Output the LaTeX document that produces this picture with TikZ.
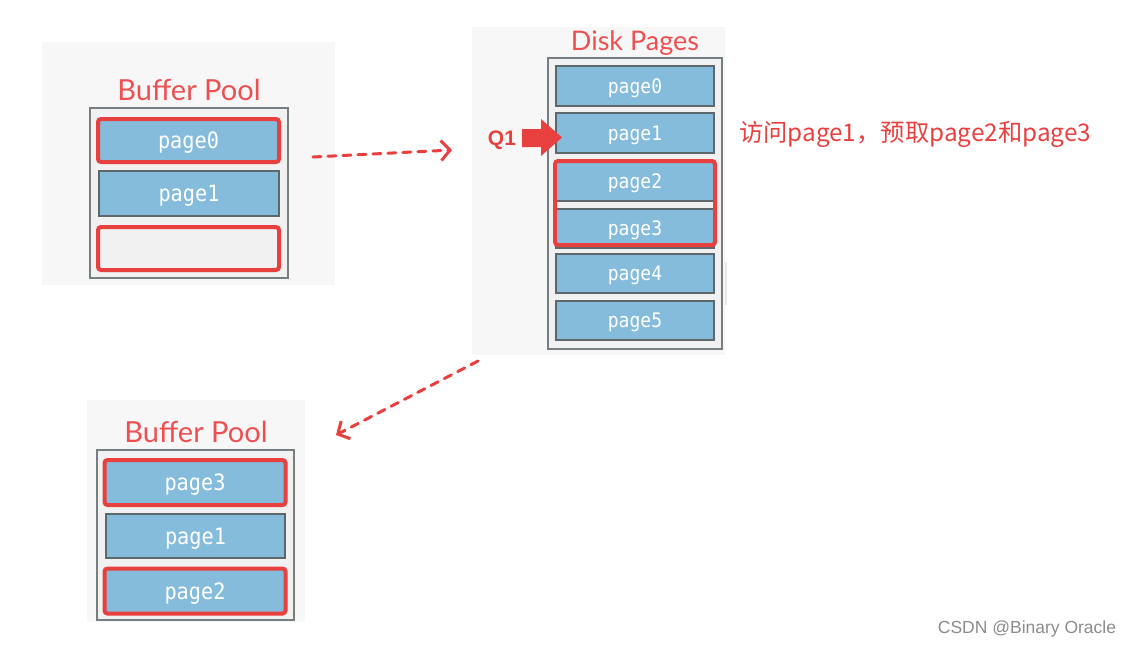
\documentclass[tikz,border=0pt]{standalone}
\usepackage{fontspec}
\setmainfont{Lato}
\newfontfamily\cjkfont{Noto Sans CJK SC}
\newfontfamily\monofont[FakeStretch=0.9]{DejaVu Sans Mono}
\newfontfamily\wmfont{Liberation Sans}
\usetikzlibrary{arrows.meta}
\definecolor{pgred}{HTML}{E8403F}
\definecolor{ttlred}{HTML}{EE5052}
\definecolor{pgblue}{HTML}{85BCDB}
\definecolor{pggray}{HTML}{5E676B}
\definecolor{panelbg}{HTML}{F7F7F7}
\definecolor{boxbg}{HTML}{F1F1F1}
\tikzset{
  panel/.style={fill=panelbg, draw=none, inner sep=0pt},
  outerbox/.style={fill=boxbg, draw=pggray!85, line width=2pt, inner sep=0pt},
  pagebox/.style={fill=pgblue, draw=pggray, line width=2pt, inner sep=0pt, text depth=-4pt,
    text=white, font=\monofont\fontsize{20}{20}\selectfont},
  bigpage/.style={pagebox, font=\monofont\fontsize{22.5}{23}\selectfont},
  redsel/.style={draw=pgred, line width=4pt, rounded corners=3pt},
  title/.style={text=ttlred, font=\fontsize{29}{30}\selectfont, inner sep=0pt},
  flow/.style={draw=pgred, line width=3pt, dash pattern=on 8pt off 7pt, line cap=round,
    -{Straight Barb[length=9pt,width=20pt,line width=3pt]}},
}
\begin{document}
\begin{tikzpicture}[x=1pt,y=-1pt]
\useasboundingbox (0,0) rectangle (1133,649);
% ---------- Buffer Pool (top) ----------
\node[panel, minimum width=293pt, minimum height=243pt] (bp1panel) at (188.5,163.5) {};
\node[title] (bp1title) at (189,90) {Buffer Pool};
\node[outerbox, minimum width=198pt, minimum height=170pt] (bp1box) at (189,193) {};
\node[bigpage, redsel, minimum width=181pt, minimum height=43pt] (bp1p0) at (188.5,140.5) {page0};
\node[bigpage, minimum width=180pt, minimum height=45pt] (bp1p1) at (189,193.5) {page1};
\node[redsel, fill=boxbg, minimum width=181pt, minimum height=43pt, inner sep=0pt] (bp1p2) at (188.5,248.5) {};
% ---------- Disk Pages ----------
\fill[black!9] (600,345) rectangle (710,355);
\fill[black!9] (720,262) rectangle (727,305);
\node[panel, minimum width=253pt, minimum height=328pt] (dpanel) at (598.5,191) {};
\node[title, font=\fontsize{27}{28}\selectfont] (dtitle) at (635,43) {Disk Pages};
\node[outerbox, minimum width=174pt, minimum height=291pt] (dbox) at (635,203.5) {};
\node[pagebox, minimum width=158pt, minimum height=40pt] (d0) at (635,86) {page0};
\node[pagebox, minimum width=158pt, minimum height=40pt] (d1) at (635,133) {page1};
\node[pagebox, minimum width=158pt, minimum height=40pt] (d2) at (635,181) {page2};
\node[pagebox, minimum width=158pt, minimum height=39pt] (d3) at (635,228) {page3};
\node[pagebox, minimum width=158pt, minimum height=39pt] (d4) at (635,273.5) {page4};
\node[pagebox, minimum width=158pt, minimum height=39pt] (d5) at (635,320.5) {page5};
\node[redsel, minimum width=160pt, minimum height=84pt, inner sep=0pt] (dsel) at (635,203) {};
% Q1 pointer
\node[text=pgred, font=\wmfont\bfseries\fontsize{21}{21}\selectfont, inner sep=0pt] (q1) at (502,140) {Q1};
\fill[pgred] (522,129) -- (541,129) -- (541,119) -- (562,137.5) -- (541,156) -- (541,147) -- (522,147) -- cycle;
% annotation
\node[text=pgred, font=\cjkfont\fontsize{24.3}{24}\selectfont, anchor=west, inner sep=0pt] (note) at (739,134) {访问page1，预取page2和page3};
% ---------- Buffer Pool (bottom) ----------
\node[panel, minimum width=218pt, minimum height=222pt] (bp2panel) at (196,511) {};
\node[title] (bp2title) at (196,432) {Buffer Pool};
\node[outerbox, minimum width=197pt, minimum height=170pt] (bp2box) at (195.5,535) {};
\node[bigpage, redsel, minimum width=181pt, minimum height=45pt] (bp2p0) at (195,482.5) {page3};
\node[bigpage, minimum width=179pt, minimum height=44pt] (bp2p1) at (195.5,536) {page1};
\node[bigpage, redsel, minimum width=181pt, minimum height=45pt] (bp2p2) at (195,591) {page2};
% ---------- connectors ----------
\coordinate (a1s) at (313,157);
\coordinate (a1e) at (452,150);
\coordinate (a2s) at (478,361);
\coordinate (a2e) at (336,435);
\draw[flow] (a1s) -- (a1e);
\draw[flow] (a2s) -- (a2e);
% watermark
\node[text=black!45, font=\wmfont\fontsize{17.5}{17}\selectfont, inner sep=0pt] (wm) at (1027,629) {CSDN @Binary Oracle};
\end{tikzpicture}
\end{document}
